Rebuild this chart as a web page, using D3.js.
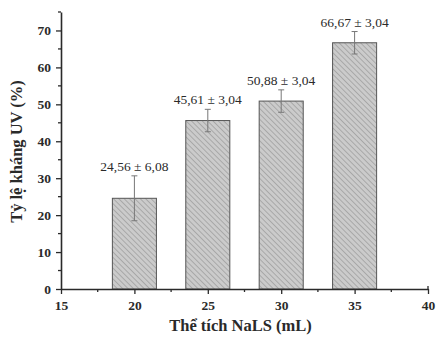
<!DOCTYPE html>
<html>
<head>
<meta charset="utf-8">
<script src="https://cdn.jsdelivr.net/npm/d3@7"></script>
<style>
  html, body { margin: 0; padding: 0; background: #fff; }
  svg text { font-family: "Liberation Serif", "Times New Roman", "DejaVu Serif", serif; }
</style>
</head>
<body>
<svg id="chart" width="436" height="337"></svg>
<script>
// NaLS volume (mL) and UV-resistance rate (%) with standard deviation
const volumes = [20, 25, 30, 35];
const uvRate = [24.56, 45.61, 50.88, 66.67];
const uvError = [6.08, 3.04, 3.04, 3.04];
const valueLabels = ["24,56 ± 6,08", "45,61 ± 3,04", "50,88 ± 3,04", "66,67 ± 3,04"];
const xTicks = [15, 20, 25, 30, 35, 40];
const yTicks = [0, 10, 20, 30, 40, 50, 60, 70];
const xTitle = "Thể tích NaLS (mL)";
const yTitle = "Tỷ lệ kháng UV (%)";

const svg = d3.select("#chart");
const margin = { left: 61, right: 8, top: 12, bottom: 48 };
const W = 436, H = 337;
const serif = "'Liberation Serif', 'Times New Roman', serif";

const x = d3.scaleLinear().domain([15, 40]).range([margin.left, W - margin.right]);
const y = d3.scaleLinear().domain([0, 75]).range([H - margin.bottom, margin.top]);

const barWidth = 3; // in mL units
const ink = "#2a2a2a";

// diagonal hatch fill
const hatchStep = 3.8;
const defs = svg.append("defs");
const pat = defs.append("pattern")
  .attr("id", "hatch")
  .attr("patternUnits", "userSpaceOnUse")
  .attr("width", hatchStep).attr("height", hatchStep)
  .attr("patternTransform", "rotate(-45)");
pat.append("rect").attr("width", hatchStep).attr("height", hatchStep).attr("fill", "#cbcbcb");
pat.append("line").attr("x1", 0).attr("y1", 0).attr("x2", 0).attr("y2", hatchStep)
  .attr("stroke", "#7e7e7e").attr("stroke-width", 0.9);

// bars
svg.append("g").selectAll("rect")
  .data(volumes)
  .join("rect")
  .attr("x", (d) => x(d - barWidth / 2))
  .attr("width", (d) => x(d + barWidth / 2) - x(d - barWidth / 2))
  .attr("y", (d, i) => y(uvRate[i]))
  .attr("height", (d, i) => y(0) - y(uvRate[i]))
  .attr("fill", "url(#hatch)")
  .attr("stroke", "#555")
  .attr("stroke-width", 1);

// error bars
const eb = svg.append("g").attr("stroke", "#777").attr("stroke-width", 1);
volumes.forEach((v, i) => {
  const cx = x(v);
  const lo = y(uvRate[i] - uvError[i]);
  const hi = y(uvRate[i] + uvError[i]);
  eb.append("line").attr("x1", cx).attr("x2", cx).attr("y1", lo).attr("y2", hi);
  eb.append("line").attr("x1", cx - 3).attr("x2", cx + 3).attr("y1", lo).attr("y2", lo);
  eb.append("line").attr("x1", cx - 3).attr("x2", cx + 3).attr("y1", hi).attr("y2", hi);
});

// value labels
svg.append("g").selectAll("text")
  .data(volumes)
  .join("text")
  .attr("x", (d) => x(d))
  .attr("y", (d, i) => y(uvRate[i] + uvError[i]) - 5)
  .attr("text-anchor", "middle")
  .attr("font-family", serif)
  .attr("font-size", 13.5)
  .attr("fill", ink)
  .text((d, i) => valueLabels[i]);

// axes
const xAxis = d3.axisBottom(x).tickValues(xTicks).tickSize(5).tickPadding(6).tickSizeOuter(0);
const gx = svg.append("g").attr("transform", `translate(0,${y(0)})`).call(xAxis);
const yAxis = d3.axisLeft(y).tickValues(yTicks).tickSize(5).tickPadding(5).tickSizeOuter(0);
const gy = svg.append("g").attr("transform", `translate(${margin.left},0)`).call(yAxis);

// minor ticks
const xMinor = d3.range(17.5, 40, 5);
gx.append("g").selectAll("line").data(xMinor).join("line")
  .attr("x1", (d) => x(d)).attr("x2", (d) => x(d)).attr("y1", 0).attr("y2", 3)
  .attr("stroke", ink).attr("stroke-width", 1.3);
const yMinor = d3.range(5, 75, 10);
gy.append("g").selectAll("line").data(yMinor).join("line")
  .attr("x1", 0).attr("x2", -3).attr("y1", (d) => y(d)).attr("y2", (d) => y(d))
  .attr("stroke", ink).attr("stroke-width", 1.3);

[gx, gy].forEach((g) => {
  g.attr("font-family", serif);
  g.select(".domain").attr("stroke", ink).attr("stroke-width", 1.6);
  g.selectAll(".tick line").attr("stroke", ink).attr("stroke-width", 1.3);
  g.selectAll(".tick text")
    .attr("fill", ink)
    .attr("font-family", serif)
    .attr("font-weight", "bold")
    .attr("font-size", 13.5);
});
// close the axis ends with a short tick at the top and right
gy.append("line").attr("x1", 0).attr("x2", -3).attr("y1", y(75)).attr("y2", y(75))
  .attr("stroke", ink).attr("stroke-width", 1.3);
gx.append("line").attr("x1", x(40)).attr("x2", x(40)).attr("y1", 0).attr("y2", -3)
  .attr("stroke", ink).attr("stroke-width", 1.3);

// axis titles
svg.append("text")
  .attr("x", (x(15) + x(40)) / 2 - 4)
  .attr("y", 331)
  .attr("text-anchor", "middle")
  .attr("font-family", serif)
  .attr("font-weight", "bold")
  .attr("font-size", 16.5)
  .attr("fill", ink)
  .text(xTitle);

svg.append("text")
  .attr("transform", `translate(22,${(y(0) + y(75)) / 2 + 1}) rotate(-90)`)
  .attr("text-anchor", "middle")
  .attr("font-family", serif)
  .attr("font-weight", "bold")
  .attr("font-size", 16.5)
  .attr("fill", ink)
  .text(yTitle);
</script>
</body>
</html>
